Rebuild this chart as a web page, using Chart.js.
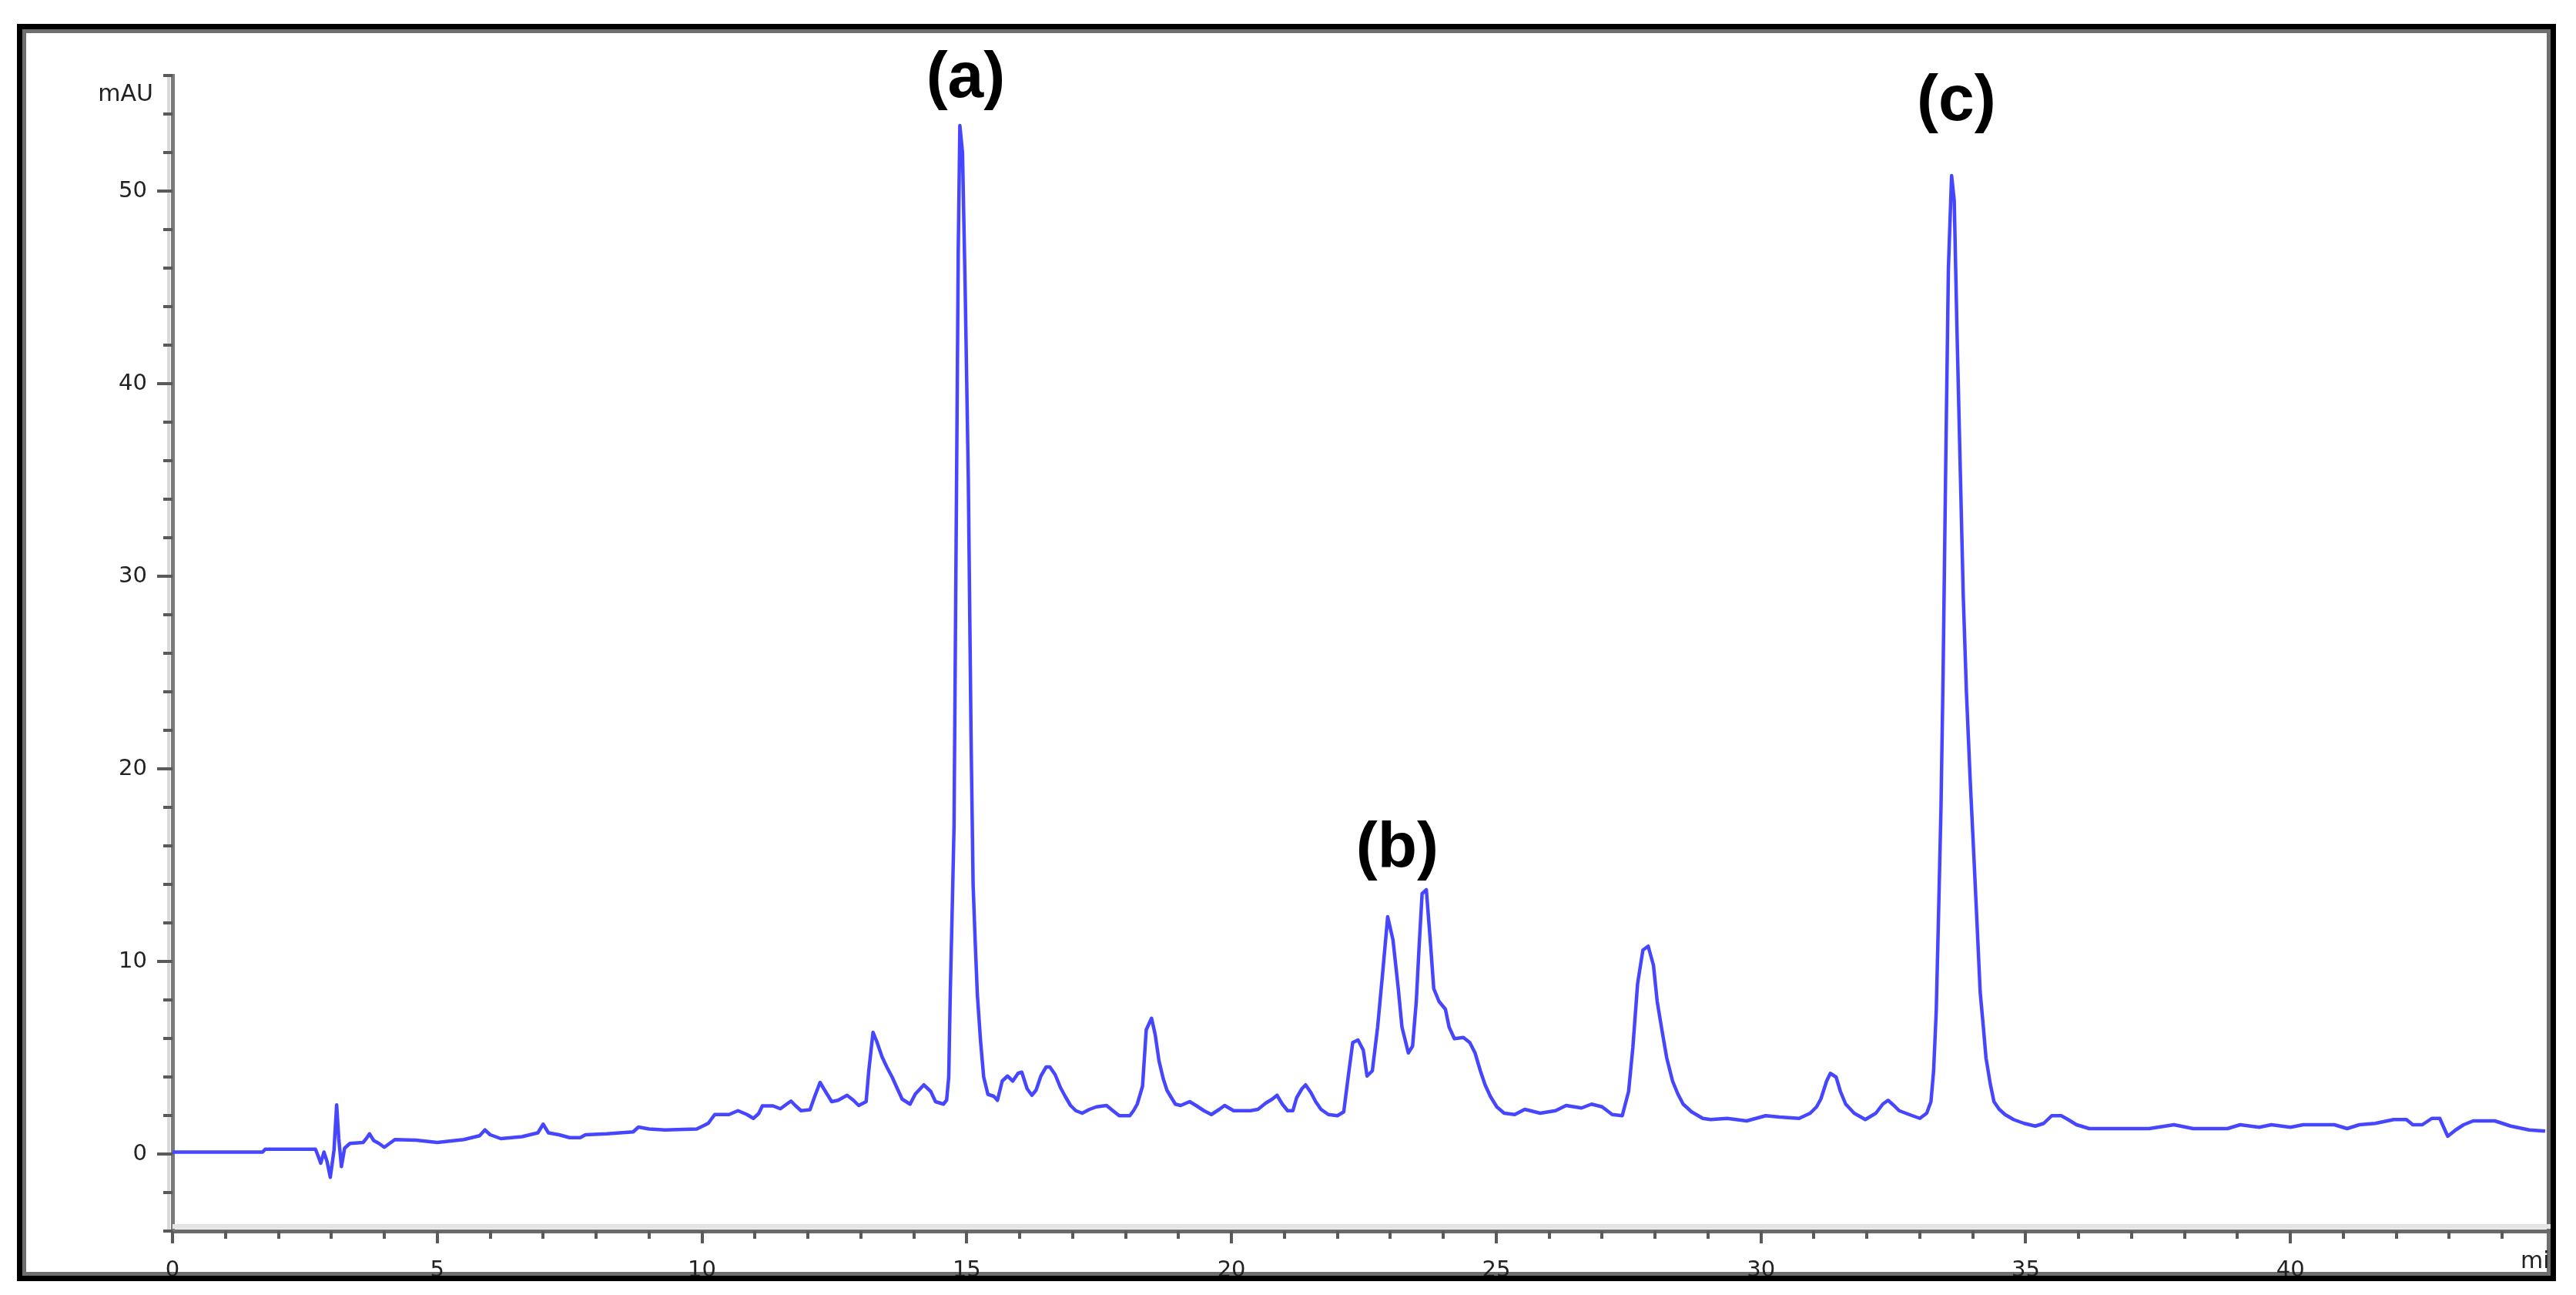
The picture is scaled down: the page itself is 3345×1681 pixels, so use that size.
<!DOCTYPE html>
<html><head><meta charset="utf-8">
<script src="https://cdn.jsdelivr.net/npm/chart.js@4/dist/chart.umd.min.js"></script>
<style>
html,body{margin:0;padding:0;background:#fff;width:3345px;height:1681px;overflow:hidden;}
#frame{position:absolute;left:22px;top:31px;width:3297px;height:1632px;box-sizing:border-box;border:7px solid #000;box-shadow:inset 0 0 0 5px #6f6f6f;overflow:hidden;background:#fff;}
#c{position:absolute;left:-29px;top:-38px;}
</style></head><body>
<div id="frame"><canvas id="c" width="3345" height="1681"></canvas></div>
<script>
// ---- data (retention time in min, absorbance in mAU) ----
const times = [0.00,1.70,1.75,2.70,2.75,2.80,2.86,2.92,2.98,3.05,3.10,3.14,3.19,3.25,3.35,3.60,3.66,3.72,3.80,3.90,4.00,4.10,4.20,4.60,5.00,5.50,5.80,5.90,6.00,6.10,6.20,6.60,6.90,7.00,7.10,7.30,7.50,7.70,7.80,8.20,8.70,8.80,9.00,9.30,9.90,10.05,10.12,10.24,10.51,10.68,10.85,10.97,11.07,11.14,11.34,11.48,11.68,11.77,11.87,12.04,12.13,12.23,12.30,12.45,12.57,12.74,12.86,12.96,13.10,13.15,13.23,13.30,13.40,13.49,13.59,13.69,13.78,13.93,14.03,14.19,14.32,14.41,14.56,14.62,14.66,14.69,14.72,14.76,14.80,14.84,14.87,14.92,14.97,15.03,15.08,15.12,15.16,15.20,15.26,15.32,15.40,15.51,15.58,15.67,15.77,15.87,15.97,16.04,16.14,16.23,16.31,16.40,16.50,16.57,16.67,16.77,16.86,16.96,17.06,17.18,17.32,17.45,17.64,17.76,17.88,18.08,18.15,18.22,18.32,18.39,18.49,18.56,18.63,18.71,18.78,18.85,18.94,19.04,19.21,19.33,19.48,19.62,19.77,19.87,20.04,20.36,20.50,20.65,20.77,20.86,20.96,21.06,21.16,21.23,21.33,21.40,21.50,21.59,21.69,21.83,22.00,22.12,22.20,22.29,22.39,22.49,22.56,22.66,22.76,22.85,22.95,23.05,23.15,23.22,23.34,23.42,23.49,23.54,23.60,23.68,23.75,23.82,23.92,24.04,24.11,24.21,24.38,24.50,24.60,24.70,24.79,24.89,25.01,25.15,25.35,25.54,25.83,26.12,26.32,26.61,26.80,27.00,27.19,27.38,27.50,27.58,27.67,27.77,27.87,27.97,28.04,28.12,28.22,28.33,28.43,28.53,28.69,28.90,29.05,29.36,29.73,30.09,30.35,30.72,30.93,31.05,31.13,31.24,31.31,31.42,31.50,31.60,31.76,31.97,32.17,32.30,32.40,32.51,32.61,32.80,33.00,33.13,33.21,33.26,33.31,33.35,33.40,33.44,33.49,33.54,33.60,33.65,33.70,33.76,33.82,33.88,33.95,34.02,34.08,34.14,34.20,34.25,34.33,34.40,34.50,34.61,34.77,34.97,35.18,35.34,35.49,35.67,35.80,35.96,36.20,37.33,37.80,38.16,38.81,39.05,39.41,39.64,40.00,40.24,40.83,41.07,41.30,41.60,41.95,42.19,42.31,42.49,42.67,42.82,42.97,43.12,43.27,43.45,43.86,44.16,44.51,44.81];
const mAU = [0.10,0.10,0.25,0.25,-0.10,-0.48,0.10,-0.40,-1.21,0.20,2.55,0.80,-0.65,0.30,0.55,0.60,0.80,1.05,0.70,0.55,0.35,0.55,0.75,0.72,0.60,0.75,0.95,1.25,1.00,0.90,0.80,0.90,1.10,1.55,1.10,1.00,0.85,0.85,1.00,1.05,1.15,1.40,1.30,1.25,1.30,1.50,1.60,2.05,2.05,2.25,2.05,1.85,2.10,2.50,2.50,2.35,2.75,2.50,2.25,2.30,3.00,3.72,3.39,2.72,2.79,3.05,2.79,2.52,2.72,4.32,6.32,5.85,5.05,4.52,4.00,3.39,2.85,2.59,3.12,3.59,3.25,2.72,2.59,2.80,4.00,8.50,12.0,17.0,32.0,47.0,53.4,52.0,45.0,35.0,22.0,14.0,11.0,8.30,5.90,4.00,3.10,3.00,2.79,3.79,4.05,3.79,4.19,4.25,3.39,3.05,3.32,4.05,4.52,4.52,4.12,3.45,2.99,2.52,2.25,2.12,2.32,2.45,2.52,2.25,1.99,1.99,2.25,2.59,3.52,6.45,7.05,6.19,4.85,3.92,3.32,2.99,2.59,2.52,2.72,2.52,2.25,2.05,2.32,2.52,2.25,2.25,2.32,2.65,2.85,3.05,2.59,2.25,2.25,2.92,3.39,3.59,3.19,2.72,2.32,2.05,1.99,2.19,3.92,5.79,5.92,5.39,4.05,4.32,6.59,9.25,12.32,11.12,8.59,6.59,5.25,5.60,7.92,10.59,13.52,13.72,11.25,8.59,7.92,7.52,6.59,5.99,6.05,5.79,5.25,4.32,3.59,2.99,2.45,2.12,2.05,2.32,2.12,2.25,2.52,2.39,2.59,2.45,2.05,1.99,3.25,5.52,8.85,10.59,10.79,9.79,7.92,6.59,4.99,3.79,3.12,2.59,2.19,1.85,1.79,1.85,1.72,1.99,1.92,1.85,2.12,2.45,2.85,3.79,4.19,3.99,3.25,2.59,2.12,1.79,2.12,2.59,2.79,2.52,2.25,2.05,1.85,2.12,2.72,4.30,7.40,12.0,18.0,25.0,36.0,46.0,50.8,49.5,43.0,36.0,29.0,24.0,19.5,15.5,12.0,8.40,6.59,4.99,3.65,2.72,2.32,2.05,1.79,1.59,1.45,1.59,1.99,1.99,1.79,1.52,1.32,1.32,1.52,1.32,1.32,1.52,1.39,1.52,1.39,1.52,1.52,1.32,1.52,1.59,1.79,1.79,1.52,1.52,1.85,1.85,0.92,1.25,1.52,1.72,1.72,1.45,1.25,1.19];

// axis ticks / labels
const xRange = [0, 45];
const yRange = [-4, 56];
const xTickStep = 1, xLabelEvery = 5, xLastLabel = 40;
const yTickStep = 2, yLabelEvery = 10;
const yUnit = 'mAU';
const xUnit = 'min';

// peak annotations (name, retention time, mAU anchor)
const peakNames = ['(a)', '(b)', '(c)'];
const peakTimes = [14.98, 23.13, 33.69];
const peakValues = [54.9, 14.9, 53.7];

const points = times.map((t, i) => ({x: t, y: mAU[i]}));

const decorPlugin = {
  id: 'decor',
  afterDraw(chart) {
    const ctx = chart.ctx;
    const xs = chart.scales.x, ys = chart.scales.y;
    const a = chart.chartArea;
    ctx.save();
    // light halo bands along axes
    ctx.fillStyle = '#d9d9d9';
    ctx.fillRect(a.left - 7, a.top, 4, a.bottom - a.top);
    ctx.fillStyle = '#e4e4e4';
    ctx.fillRect(a.left, a.bottom - 9, a.right - a.left, 6);
    // tick marks
    ctx.strokeStyle = '#5a5a5a';
    ctx.lineWidth = 4;
    ys.ticks.forEach(t => {
      const py = Math.round(ys.getPixelForValue(t.value));
      const major = Math.abs(t.value % yLabelEvery) < 1e-9;
      const len = major ? 20 : 12;
      ctx.beginPath(); ctx.moveTo(a.left - len, py); ctx.lineTo(a.left, py); ctx.stroke();
    });
    xs.ticks.forEach(t => {
      const px = Math.round(xs.getPixelForValue(t.value));
      const major = Math.abs(t.value % xLabelEvery) < 1e-9;
      const len = major ? 16 : 10;
      ctx.beginPath(); ctx.moveTo(px, a.bottom); ctx.lineTo(px, a.bottom + len); ctx.stroke();
    });
    // unit labels
    ctx.fillStyle = '#222';
    ctx.font = '30px "DejaVu Sans"';
    ctx.textAlign = 'right'; ctx.textBaseline = 'middle';
    ctx.fillText(yUnit, a.left - 25, a.top + 25);
    ctx.textAlign = 'left';
    ctx.fillText(xUnit, xs.getPixelForValue(xRange[1]) - 45, a.bottom + 40);
    // peak labels
    ctx.fillStyle = '#000';
    ctx.font = 'bold 84px "Liberation Sans"';
    ctx.textAlign = 'center'; ctx.textBaseline = 'alphabetic';
    peakNames.forEach((n, i) => {
      ctx.fillText(n, xs.getPixelForValue(peakTimes[i]), ys.getPixelForValue(peakValues[i]));
    });
    ctx.restore();
  }
};

new Chart(document.getElementById('c'), {
  type: 'line',
  data: { datasets: [{ data: points, borderColor: 'rgb(70,70,255)', borderWidth: 4.5, pointRadius: 0, tension: 0, fill: false, borderJoinStyle: 'round' }] },
  options: {
    responsive: false, animation: false,
    layout: { padding: { top: 98, right: 27, left: 0, bottom: 0 } },
    plugins: { legend: { display: false }, tooltip: { enabled: false } },
    scales: {
      x: {
        type: 'linear', min: xRange[0], max: xRange[1],
        grid: { display: false },
        border: { display: true, color: '#6a6a6a', width: 5 },
        ticks: { stepSize: xTickStep, autoSkip: false, maxRotation: 0, padding: 26, color: '#222',
          font: { family: 'DejaVu Sans', size: 29 },
          callback: v => (v % xLabelEvery === 0 && v <= xLastLabel) ? String(v) : '' },
        afterFit: s => { s.height = 83; }
      },
      y: {
        type: 'linear', min: yRange[0], max: yRange[1],
        grid: { display: false },
        border: { display: true, color: '#7a7a7a', width: 5 },
        ticks: { stepSize: yTickStep, autoSkip: false, padding: 25, color: '#222',
          font: { family: 'DejaVu Sans', size: 29 },
          callback: v => (v % yLabelEvery === 0) ? String(v) : '' },
        afterFit: s => { s.width = 224; }
      }
    }
  },
  plugins: [decorPlugin]
});
</script>
</body></html>
